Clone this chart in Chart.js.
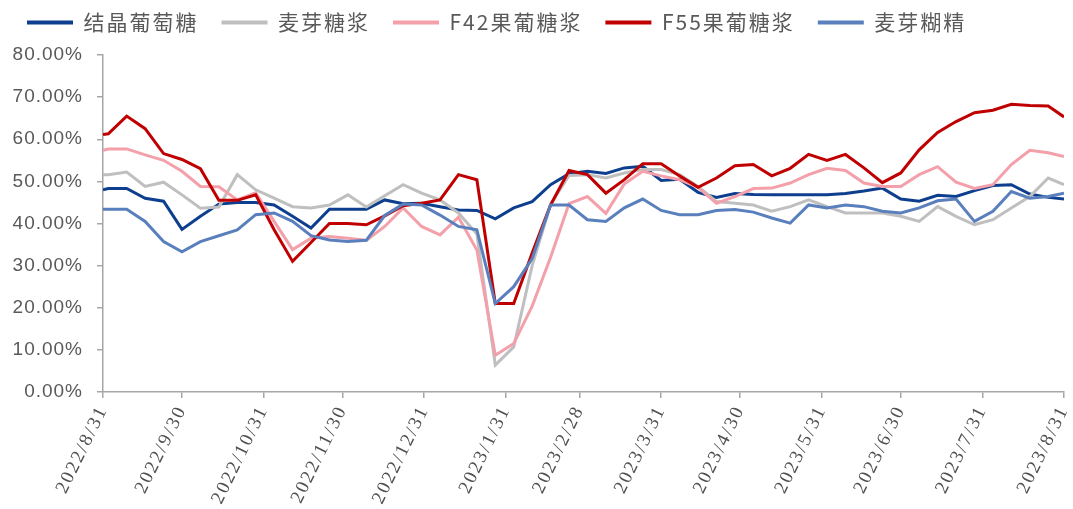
<!DOCTYPE html>
<html>
<head>
<meta charset="utf-8">
<script src="https://cdn.jsdelivr.net/npm/chart.js@4.4.0/dist/chart.umd.min.js"></script>
<style>
  html, body { margin: 0; padding: 0; background: #fff; }
</style>
</head>
<body>
<canvas id="sugarChart" width="1073" height="509"></canvas>
<script>
// weekly observation dates
const dates = ['2022/8/31','2022/9/2','2022/9/9','2022/9/16','2022/9/23','2022/9/30','2022/10/7','2022/10/14','2022/10/21','2022/10/28',
  '2022/11/4','2022/11/11','2022/11/18','2022/11/25','2022/12/2','2022/12/9','2022/12/16','2022/12/23','2022/12/30','2023/1/6',
  '2023/1/13','2023/1/20','2023/1/27','2023/2/3','2023/2/10','2023/2/17','2023/2/24','2023/3/3','2023/3/10','2023/3/17',
  '2023/3/24','2023/3/31','2023/4/7','2023/4/14','2023/4/21','2023/4/28','2023/5/5','2023/5/12','2023/5/19','2023/5/26',
  '2023/6/2','2023/6/9','2023/6/16','2023/6/23','2023/6/30','2023/7/7','2023/7/14','2023/7/21','2023/7/28','2023/8/4',
  '2023/8/11','2023/8/18','2023/8/25','2023/8/31'];

// x axis tick labels (month ends)
const tickDates = ['2022/8/31','2022/9/30','2022/10/31','2022/11/30','2022/12/31','2023/1/31','2023/2/28',
  '2023/3/31','2023/4/30','2023/5/31','2023/6/30','2023/7/31','2023/8/31'];

const seriesNames = ['结晶葡萄糖', '麦芽糖浆', 'F42果葡糖浆', 'F55果葡糖浆', '麦芽糊精'];

// values in %
const glucose = [48.0,48.3,48.3,46.0,45.3,38.6,41.7,44.6,45.0,45.0,
  44.4,41.7,38.9,43.4,43.4,43.4,45.6,44.7,44.8,44.0,
  43.2,43.1,41.1,43.7,45.2,49.2,51.8,52.4,51.9,53.2,
  53.6,50.2,50.5,47.4,46.2,47.1,46.9,46.8,46.8,46.8,
  46.8,47.1,47.7,48.4,45.8,45.3,46.7,46.4,47.8,49.0,
  49.2,47.0,46.2,45.8];
const maltoseSyrup = [51.6,51.6,52.2,48.8,49.8,46.8,43.6,43.9,51.6,48.0,
  46.0,44.0,43.7,44.4,46.8,43.9,46.6,49.2,47.2,45.6,
  42.5,37.5,6.4,10.7,30.0,44.5,51.4,51.6,50.8,52.0,
  52.8,52.8,51.6,48.8,45.2,44.8,44.4,42.9,44.0,45.6,
  44.0,42.5,42.5,42.5,41.7,40.5,44.0,41.7,39.7,40.9,
  43.7,46.4,50.8,49.2];
const hfcs42 = [57.4,57.7,57.7,56.3,55.0,52.4,48.8,48.7,45.6,47.3,
  40.5,33.8,36.5,36.9,36.5,36.0,39.3,43.7,39.3,37.3,
  41.5,33.7,8.7,11.5,20.4,32.0,44.7,46.4,42.4,49.4,
  52.4,51.3,50.4,48.6,44.8,46.4,48.3,48.4,49.6,51.6,
  53.1,52.6,49.6,48.8,48.8,51.6,53.5,49.8,48.3,49.2,
  54.0,57.4,56.8,55.9];
const hfcs55 = [61.1,61.3,65.5,62.5,56.6,55.2,53.0,45.5,45.5,46.8,
  38.5,31.0,35.5,40.0,40.0,39.7,41.8,44.2,44.8,45.6,
  51.6,50.4,21.0,21.0,33.0,44.4,52.6,51.6,47.2,50.4,
  54.2,54.2,51.3,48.6,50.8,53.7,54.0,51.3,53.1,56.4,
  55.0,56.4,53.2,49.7,52.0,57.5,61.6,64.2,66.3,66.9,
  68.3,68.0,67.9,65.3];
const maltodextrin = [43.4,43.4,43.4,40.5,35.7,33.3,35.7,37.1,38.5,42.1,
  42.5,40.5,37.1,36.1,35.7,36.0,41.9,44.6,44.4,42.0,
  39.3,38.5,21.0,25.0,31.7,44.4,44.4,40.9,40.5,43.7,
  45.8,43.1,42.1,42.1,43.1,43.3,42.7,41.3,40.1,44.4,
  43.7,44.4,44.0,42.9,42.5,43.7,45.4,45.8,40.5,42.9,
  47.6,46.0,46.4,47.2];

const colors = ['#0e3f8f', '#bfbfbf', '#f3a0aa', '#c00000', '#5a7fbd'];

// days since first tick, so the x axis behaves like a date axis
function dayOf(s) {
  const p = s.split('/');
  return Date.UTC(+p[0], +p[1] - 1, +p[2]) / 86400000;
}
const day0 = dayOf(tickDates[0]);
const xDays = dates.map(d => dayOf(d) - day0);
const tickDays = tickDates.map(d => dayOf(d) - day0);

const allSeries = [glucose, maltoseSyrup, hfcs42, hfcs55, maltodextrin];

const datasets = allSeries.map((vals, i) => ({
  label: seriesNames[i],
  data: vals.map((v, k) => ({ x: xDays[k], y: v })),
  borderColor: colors[i],
  backgroundColor: colors[i],
  borderWidth: 3,
  pointRadius: 0,
  tension: 0,
  order: allSeries.length - i   // later series drawn on top, like the original
}));

// wrap a draw method so it runs with some letter spacing
function spaced(obj, method, spacing) {
  const orig = obj[method];
  obj[method] = function () {
    this.ctx.save();
    this.ctx.letterSpacing = spacing;
    const r = orig.apply(this, arguments);
    this.ctx.restore();
    return r;
  };
}

// legend: fixed height + spaced text; axis labels spaced too
const textTweak = {
  id: 'textTweak',
  beforeLayout(chart) {
    const lg = chart.legend;
    if (!lg || lg._tweaked) return;
    lg._tweaked = true;
    const fit = lg.fit;
    lg.fit = function () {
      this.ctx.save();
      this.ctx.letterSpacing = '2px';
      fit.call(this);
      this.ctx.restore();
      if (this.options.display) this.height = 66;
    };
    spaced(lg, 'draw', '2px');
  },
  afterLayout(chart) {
    const x = chart.scales.x, y = chart.scales.y;
    if (!x._tweaked) { x._tweaked = true; spaced(x, 'drawLabels', '2px'); }
    if (!y._tweaked) { y._tweaked = true; spaced(y, 'drawLabels', '1px'); }
  }
};

const axisColor = '#a6a6a6';
const textColor = '#595959';

new Chart(document.getElementById('sugarChart'), {
  type: 'line',
  data: { datasets: datasets },
  options: {
    responsive: false,
    animation: false,
    layout: { padding: { top: -11, right: 9, left: 4, bottom: 0 } },
    plugins: {
      legend: {
        position: 'top',
        align: 'start',
        labels: {
          boxWidth: 46,
          boxHeight: 4,
          padding: 23,
          color: textColor,
          font: { family: '"Noto Sans CJK SC"', size: 21 },
          sort: (a, b) => a.datasetIndex - b.datasetIndex,
          generateLabels(chart) {
            return Chart.defaults.plugins.legend.labels.generateLabels(chart)
              .map(item => Object.assign(item, { lineWidth: 0 }));
          }
        }
      },
      tooltip: { enabled: false }
    },
    scales: {
      x: {
        type: 'linear',
        min: tickDays[0],
        max: tickDays[tickDays.length - 1],
        afterBuildTicks(scale) {
          scale.ticks = tickDays.map(v => ({ value: v }));
        },
        afterFit(scale) {
          scale.height = 117;
          scale.paddingLeft = 0;
          scale.paddingRight = 0;
        },
        ticks: {
          autoSkip: false,
          minRotation: 64,
          maxRotation: 64,
          padding: 4,
          color: '#505050',
          font: { family: '"Liberation Serif"', size: 19 },
          callback: (v, i) => tickDates[i]
        },
        grid: { drawOnChartArea: false, drawTicks: true, tickLength: 6, color: axisColor, lineWidth: 1.5 },
        border: { color: axisColor, width: 1.5 }
      },
      y: {
        min: 0,
        max: 80,
        afterFit(scale) { scale.width = 99; },
        ticks: {
          stepSize: 10,
          padding: 14,
          color: textColor,
          font: { family: '"Liberation Sans"', size: 19 },
          callback: v => v.toFixed(2) + '%'
        },
        grid: { drawOnChartArea: false, drawTicks: true, tickLength: 6, color: axisColor, lineWidth: 1.5 },
        border: { color: axisColor, width: 1.5 }
      }
    }
  },
  plugins: [textTweak]
});
</script>
</body>
</html>
